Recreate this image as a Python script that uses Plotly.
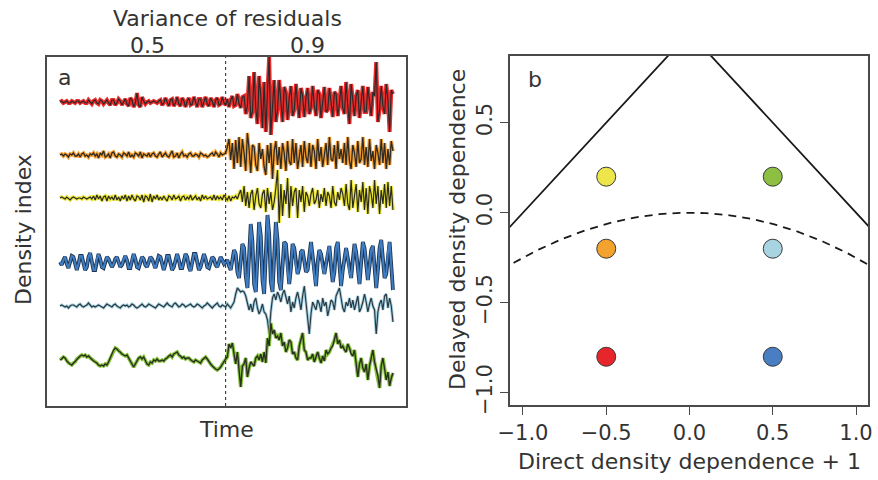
import numpy as np
import plotly.graph_objects as go

W, H = 878, 480
FONT = "DejaVu Sans"
TXT = "#333333"
FRAME = "#4a4a4a"

# ---------------- panel a: density index of six populations ----------------
steps = list(range(200))
shift_step = 99          # residual variance switches from 0.5 to 0.9 here
variance_labels = ["0.5", "0.9"]

red_vals = [
    0, 1, -1, 0, 1, -1, -1, 1, 0, -1,
    1, 1, -1, 0, 1, -1, -1, 2, 0, -2,
    1, 2, -1, -2, 2, 1, -2, 0, 2, -1,
    -3, 2, 2, -3, -1, 3, 1, -3, 0, 3,
    -2, -4, 4, 2, -5, -1, 9, -3, -5, 5,
    1, -2, 0, 1, -1, 0, 1, 0, -1, 1,
    2, -3, -1, 4, 0, -4, 2, 3, -4, -1,
    5, -2, -4, 4, 1, -5, 1, 4, -3, -2,
    5, -1, -5, 3, 3, -5, 0, 5, -2, -4,
    4, 1, -5, 2, 4, -3, -2, 5, -1, -3,
    3, -5, 2, 6, -4, -3, 8, -2, -6, 5,
    6, -12, -4, 26, -16, -10, 30, -6, -22, 26,
    6, -26, 20, -30, 10, 45, -33, -8, 22, -20,
    -8, 22, -5, -20, 15, 10, -18, 4, 16, -14,
    -8, 18, -2, -16, 14, 6, -15, 4, 14, -12,
    -6, 16, -4, -14, 12, 8, -16, 2, 15, -10,
    -8, 14, 2, -15, 10, 8, -14, -2, 16, -6,
    -12, 20, -4, -22, 18, 4, -14, 6, 12, -16,
    2, 16, -10, -10, 15, -2, -14, 10, 6, 40,
    -20, -8, 16, -4, -12, 18, 2, -30, 12, 8,
]

orange_vals = [
    0, 1, -1, 1, 0, -2, 1, 0, 2, -1,
    -1, 1, -2, 1, 2, -1, 0, -2, 1, 0,
    2, -1, 1, -3, 2, 0, 4, -2, -1, 1,
    -3, 2, 3, -1, -2, 1, 0, -2, 2, 1,
    -1, 3, -2, 0, -2, 2, 1, -1, 3, -3,
    1, 0, -1, 2, -2, 1, 2, -1, -2, 1,
    3, -2, 0, 2, -1, -2, 1, 4, -2, -1,
    2, -3, 1, 3, -1, 0, -2, 1, 2, -1,
    -1, 1, 0, -2, 2, 1, -1, 0, -2, -1,
    1, 2, -1, 3, 1, -2, 2, 0, 1, 2,
    8, 16, -5, 12, -14, 15, -8, 18, -12, 16,
    2, -16, 22, 6, -18, 10, 8, -10, -16, 12,
    -4, 6, -12, -20, 10, -8, 12, -24, 4, 14,
    -10, 8, -14, 12, 2, -16, 14, -6, -10, 16,
    -8, 12, -14, 0, 10, -12, 14, -2, -8, 12,
    -12, 10, 4, -14, 16, -6, 8, -12, 2, 12,
    -10, 18, -4, -6, 10, -14, 14, -4, 6, -8,
    12, -10, 18, -6, -14, 10, 2, -12, 14, -8,
    -4, 18, -10, 8, -12, 16, -6, 4, -14, 10,
    2, -10, 16, -8, 12, -14, 6, -10, 14, 4,
]

yellow_vals = [
    0, 1, 0, -1, 1, -1, -2, 0, 1, 0,
    -1, 0, 0, -1, 1, 0, -1, 0, 1, -1,
    2, -2, 3, -1, 2, -3, 1, 2, -3, 2,
    -1, 1, -2, 3, -2, 1, -3, 2, -1, 3,
    -3, 2, -2, 3, -1, -3, 2, 1, -2, 3,
    -4, 2, 1, -3, 4, -4, 2, -1, 3, -2,
    1, -2, 2, -1, -3, 2, 1, -2, 3, -1,
    0, 2, -3, 1, 2, -2, 1, -1, 3, -2,
    0, 2, -2, 1, -3, 3, -1, 2, -1, 0,
    1, -2, 3, -2, 2, -1, 1, -2, 3, 0,
    -2, 2, -3, 1, 0, 2, -1, 4, 8, -4,
    12, -8, 6, -10, 4, 8, -12, 2, 10, -6,
    -10, 4, 8, -14, 10, -6, 6, -12, -4, 10,
    28, -25, 14, -18, 8, -6, 20, -20, 12, -8,
    6, 10, -20, 8, -4, 12, -14, 6, 2, -8,
    4, 10, -6, -2, 8, -10, 4, -4, 10, -8,
    6, 2, -10, 12, -4, -8, 6, -2, 10, 4,
    -8, 14, -6, -12, 18, -10, 2, 14, -14, 8,
    -4, 16, -12, 10, -16, 12, 4, -10, 18, -6,
    12, -16, 8, -6, 14, -10, 16, -8, 12, -12,
]

blue_vals = [
    0, -3, 2, 5, -2, -6, 0, 6, 5, -3,
    -8, -2, 6, 6, -2, -8, -5, 5, 9, 2,
    -8, -8, 3, 8, 3, -5, -6, 0, 5, 3,
    -2, -5, -2, 3, 5, 0, -5, -3, 3, 6,
    2, -6, -6, 2, 8, 3, -5, -6, 0, 5,
    3, -3, -5, 0, 5, 3, -3, -6, 0, 6,
    5, -3, -8, -2, 6, 6, -2, -8, -5, 3,
    8, 2, -6, -6, 2, 8, 5, -5, -9, -2,
    8, 8, -2, -8, -5, 3, 8, 3, -5, -6,
    0, 5, 3, -3, -5, 0, 5, 2, -2, 0,
    2, -4, -8, 2, 12, 8, -10, -16, 0, 18,
    14, -14, -26, 4, 38, 20, -22, -30, 4, 40,
    26, -18, -32, 6, 47, 28, -20, -30, 2, 40,
    22, -20, -28, -2, 20, 18, -8, -22, -6, 18,
    14, -4, -12, -6, 10, 12, 2, -10, -8, 8,
    20, 6, -14, -24, 0, 12, 8, -6, -12, -2,
    10, 16, -4, -20, -10, 14, 20, 0, -24, -8,
    6, 14, 4, -10, -16, 2, 18, 10, -8, -22,
    0, 20, 14, -6, -18, -4, 12, 16, -2, -26,
    -8, 14, 22, 2, -16, -12, 10, 20, -4, -28,
]

lightblue_vals = [
    0, 1, 0, -1, 0, -2, 0, 1, 1, 0,
    -1, 1, 2, 0, -1, 0, 1, 3, 1, -1,
    0, -1, 0, 1, 0, -1, -2, 0, 2, 1,
    0, -1, 1, 2, 0, -1, -2, 0, 1, 0,
    1, -1, 0, 2, 1, -1, -2, -1, 1, 2,
    0, -1, 0, 2, 1, 0, -1, -2, 0, 2,
    1, 0, -1, 1, 3, 1, 0, -1, 2, 3,
    1, -1, 0, 2, 1, -1, 0, 1, 2, 0,
    -1, 0, 2, 1, -1, -2, 0, 1, 3, 1,
    -1, -2, 0, 2, 3, 0, -1, 1, 0, -1,
    2, 0, -2, 1, 4, 12, 18, 16, 14, 15,
    14, 10, 4, -4, 2, -6, 4, 8, -2, -8,
    -4, 2, -6, -8, -14, -28, -6, 8, 12, 6,
    14, 10, 4, 12, 16, 8, 2, 10, -6, 4,
    -2, 8, 14, 6, -4, 10, 20, 4, -10, -28,
    -8, 4, 0, -4, 6, 2, -6, 8, 0, 4,
    -10, -2, 6, 4, -4, 10, 14, 18, 8, -2,
    -6, 4, 0, 8, -2, 6, -4, 2, 10, -6,
    -2, 4, 12, 4, -6, 2, 8, 0, -4, -28,
    -6, 2, 6, -4, 10, 12, -2, 8, 0, -16,
]

green_vals = [
    0, 1, 3, 2, -1, -3, -4, -5, -3, -2,
    1, 2, 4, 5, 4, 5, 3, 4, 2, 1,
    -1, -2, -3, -5, -6, -5, -6, -4, -5, -2,
    2, 6, 10, 12, 11, 9, 8, 6, 5, 4,
    5, 2, -2, -5, -7, -4, -1, 2, 3, 1,
    3, -1, -4, -5, -2, -3, 0, -1, 1, -1,
    -1, 0, -1, 1, 2, 4, 5, 3, 6, 7,
    8, 5, 4, 2, 3, 1, 2, 2, 0, -1,
    -2, 0, -1, -2, -3, 0, 2, 3, 1, -2,
    -4, -6, -8, -9, -10, -9, -7, -4, -2, 1,
    3, 16, 12, 17, 6, -4, 8, -12, -27, -6,
    -4, 2, -17, -8, -2, -4, -6, 2, 4, 0,
    6, -2, 8, -3, 22, 14, 37, 26, 30, 22,
    24, 20, 27, 14, 18, 8, 12, 20, 18, 6,
    8, 2, 0, 14, 22, 27, 10, 8, 0, 2,
    2, 6, -2, 4, 8, 2, -3, 4, -1, 10,
    6, 8, 12, 14, 20, 27, 16, 20, 12, 14,
    10, 8, 16, 12, 6, 4, 10, -6, -17, -4,
    2, -8, -12, -4, -20, -6, 4, 10, -2, -10,
    -16, -28, -6, 2, -8, -20, -12, -26, -18, -13,
]

# ---------------- panel b: AR(2) coefficients of the six populations ----------------
direct_dd = [-0.5, 0.5, -0.5, 0.5, -0.5, 0.5]
delayed_dd = [0.2, 0.2, -0.2, -0.2, -0.8, -0.8]
point_colors = ["#ECE64A", "#8DBF42", "#F3A22E", "#A8D3E1", "#E6262B", "#4A7EC3"]

# trace styling: (values, vertical offset, halo colour, halo width, core colour, core width)
series = [
    (red_vals, 304, "#EE2A2A", 4.0, "#2a2a2a", 1.2),
    (orange_vals, 251, "#F5A030", 3.6, "#2e2a26", 1.3),
    (yellow_vals, 208, "#EEE83A", 3.6, "#2a2a22", 1.2),
    (blue_vals, 144, "#1f3550", 3.8, "#3f7ec4", 2.0),
    (lightblue_vals, 100, "#A6D2E2", 3.0, "#2b3a42", 1.2),
    (green_vals, 46, "#86C23C", 3.6, "#2a3020", 1.4),
]

fig = go.Figure()

for vals, off, halo, hw, core, cw in series:
    ys = [off + v for v in vals]
    fig.add_trace(go.Scatter(x=steps, y=ys, mode="lines", xaxis="x", yaxis="y",
                             line=dict(color=halo, width=hw), hoverinfo="skip",
                             showlegend=False))
    fig.add_trace(go.Scatter(x=steps, y=ys, mode="lines", xaxis="x", yaxis="y",
                             line=dict(color=core, width=cw), showlegend=False))

fig.add_shape(type="line", xref="x", yref="y domain", x0=shift_step, x1=shift_step,
              y0=0, y1=1, line=dict(color="#222222", width=1, dash="3px,3px"))

# stability triangle and real/complex-root boundary of the AR(2) model
a_grid = np.linspace(-1.2, 1.2, 241)
fig.add_trace(go.Scatter(x=a_grid, y=1 - np.abs(a_grid), mode="lines",
                         xaxis="x2", yaxis="y2", showlegend=False,
                         line=dict(color="#1a1a1a", width=1.8)))
fig.add_trace(go.Scatter(x=a_grid, y=-a_grid ** 2 / 4, mode="lines",
                         xaxis="x2", yaxis="y2", showlegend=False,
                         line=dict(color="#1a1a1a", width=1.8, dash="8px,6px")))
fig.add_trace(go.Scatter(x=direct_dd, y=delayed_dd, mode="markers",
                         xaxis="x2", yaxis="y2", showlegend=False,
                         marker=dict(size=19, color=point_colors,
                                     line=dict(color="#3a3a3a", width=1))))


def px(x, y):
    return x / W, 1 - y / H


def ann(text, x, y, size=22, angle=0, xanchor="center"):
    xp, yp = px(x, y)
    return dict(text=text, x=xp, y=yp, xref="paper", yref="paper", showarrow=False,
                font=dict(family=FONT, size=size, color=TXT), textangle=angle,
                xanchor=xanchor, yanchor="middle")


annotations = [
    ann("Variance of residuals", 227, 19),
    ann(variance_labels[0], 147, 45),
    ann(variance_labels[1], 307, 45),
    ann("a", 56, 78, xanchor="left"),
    ann("Time", 226, 429),
    ann("Density index", 23, 230, angle=-90),
    ann("b", 526, 80, xanchor="left"),
    ann("Direct density dependence + 1", 689, 461),
    ann("Delayed density dependence", 457, 230, angle=-90),
]

frame = dict(showline=True, mirror=True, linecolor=FRAME, linewidth=1.5,
             showgrid=False, zeroline=False, automargin=False)

fig.update_layout(
    width=W, height=H,
    margin=dict(l=0, r=0, t=0, b=0, autoexpand=False),
    paper_bgcolor="white", plot_bgcolor="white",
    font=dict(family=FONT, size=21, color=TXT),
    showlegend=False,
    xaxis=dict(domain=[47 / W, 406 / W], range=[-7.8, 206.8], anchor="y",
               showticklabels=False, ticks="", **frame),
    yaxis=dict(domain=[1 - 406 / H, 1 - 57 / H], range=[0, 349], anchor="x",
               showticklabels=False, ticks="", **frame),
    xaxis2=dict(domain=[510 / W, 868 / W], range=[-1.078, 1.072], anchor="y2",
                tickvals=[-1, -0.5, 0, 0.5, 1], tickformat=".1f", ticks="outside",
                ticklen=8, tickcolor=FRAME, tickwidth=1.2,
                tickfont=dict(family=FONT, size=21, color=TXT), **frame),
    yaxis2=dict(domain=[1 - 405 / H, 1 - 56 / H], range=[-1.068, 0.870], anchor="x2",
                tickvals=[-1, -0.5, 0, 0.5], tickformat=".1f", ticks="outside",
                ticklen=8, tickcolor=FRAME, tickwidth=1.2, tickangle=-90,
                tickfont=dict(family=FONT, size=21, color=TXT), **frame),
    annotations=annotations,
)

fig.write_html("out.html")
